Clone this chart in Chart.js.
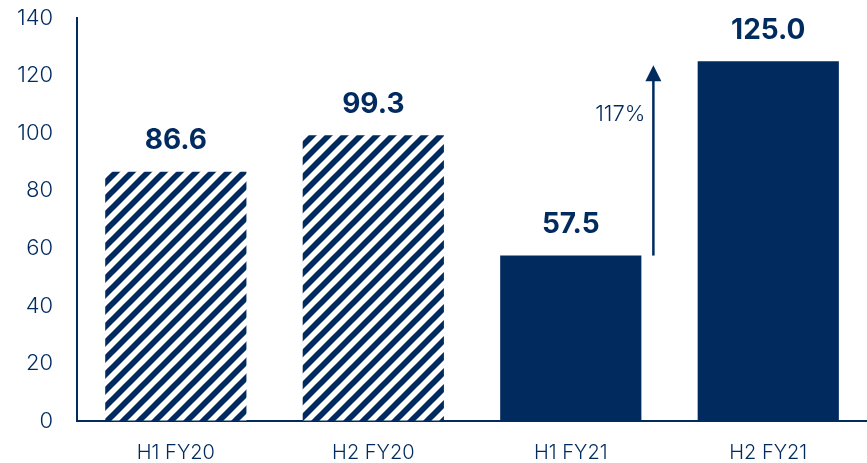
<!DOCTYPE html>
<html>
<head>
<meta charset="utf-8">
<script src="https://cdn.jsdelivr.net/npm/chart.js@4/dist/chart.umd.min.js"></script>
<style>
  html, body { margin: 0; padding: 0; background: #fff; overflow: hidden; }
  #wrap { position: relative; width: 867px; height: 463px; }
</style>
</head>
<body>
<div id="wrap"><canvas id="grafico"></canvas></div>
<script>
const periodos = ["H1 FY20", "H2 FY20", "H1 FY21", "H2 FY21"];
const valores = [86.6, 99.3, 57.5, 125.0];
const hachurado = [true, true, false, false];
const crescimento = "117%";

const azul = "#012a5f";

// listras diagonais para os semestres de FY20
function criarHachura() {
  const tam = 16;
  const c = document.createElement("canvas");
  c.width = tam;
  c.height = tam;
  const ctx = c.getContext("2d");
  ctx.fillStyle = "#fff";
  ctx.fillRect(0, 0, tam, tam);
  ctx.strokeStyle = azul;
  ctx.lineWidth = 5.8;
  ctx.beginPath();
  for (let k = 0; k <= 2; k++) {
    const s = k * tam;
    ctx.moveTo(s + tam, -tam);
    ctx.lineTo(s - tam * 2, tam * 2);
  }
  ctx.stroke();
  return ctx.createPattern(c, "repeat");
}

const padrao = criarHachura();

const rotulos = {
  id: "rotulos",
  afterDatasetsDraw(chart) {
    const ctx = chart.ctx;
    const meta = chart.getDatasetMeta(0);
    ctx.save();
    ctx.fillStyle = azul;
    ctx.font = "bold 28px Inter";
    ctx.textAlign = "center";
    ctx.textBaseline = "bottom";
    meta.data.forEach((bar, i) => {
      ctx.fillText(valores[i].toFixed(1), bar.x, bar.y - 17);
    });

    // seta de crescimento entre H1 FY21 e H2 FY21
    const y = chart.scales.y;
    const b3 = meta.data[2];
    const xs = b3.x + b3.width / 2 + 12;
    const y0 = y.getPixelForValue(valores[2]);
    const y1 = y.getPixelForValue(valores[3]) + 4;
    ctx.strokeStyle = azul;
    ctx.lineWidth = 2.5;
    ctx.beginPath();
    ctx.moveTo(xs, y0);
    ctx.lineTo(xs, y1 + 14);
    ctx.stroke();
    ctx.beginPath();
    ctx.moveTo(xs, y1);
    ctx.lineTo(xs - 8, y1 + 16);
    ctx.lineTo(xs + 8, y1 + 16);
    ctx.closePath();
    ctx.fill();

    ctx.font = "300 22px Inter";
    ctx.textAlign = "right";
    ctx.textBaseline = "middle";
    ctx.fillText(crescimento, xs - 8, y.getPixelForValue(106.5));
    ctx.restore();
  },
};

new Chart(document.getElementById("grafico"), {
  type: "bar",
  data: {
    labels: periodos,
    datasets: [
      {
        data: valores,
        backgroundColor: hachurado.map((h) => (h ? padrao : azul)),
        borderWidth: 0,
        categoryPercentage: 1,
        barPercentage: 0.715,
      },
    ],
  },
  options: {
    responsive: true,
    maintainAspectRatio: false,
    animation: false,
    layout: { padding: { top: 0, right: 0, left: 12, bottom: -22 } },
    plugins: {
      legend: { display: false },
      tooltip: { enabled: false },
    },
    scales: {
      x: {
        grid: { display: false, drawTicks: false },
        border: { display: true, color: azul, width: 2 },
        ticks: { color: azul, font: { family: "Inter", size: 20, weight: 300 }, padding: 20 },
      },
      y: {
        min: 0,
        max: 140,
        // marcas invisíveis só para afastar os números do eixo
        grid: { display: true, color: "transparent", drawTicks: true, tickLength: 19 },
        border: { display: true, color: azul, width: 2 },
        ticks: { stepSize: 20, color: azul, font: { family: "Inter", size: 22, weight: 300 }, padding: 5 },
      },
    },
  },
  plugins: [rotulos],
});
</script>
</body>
</html>
